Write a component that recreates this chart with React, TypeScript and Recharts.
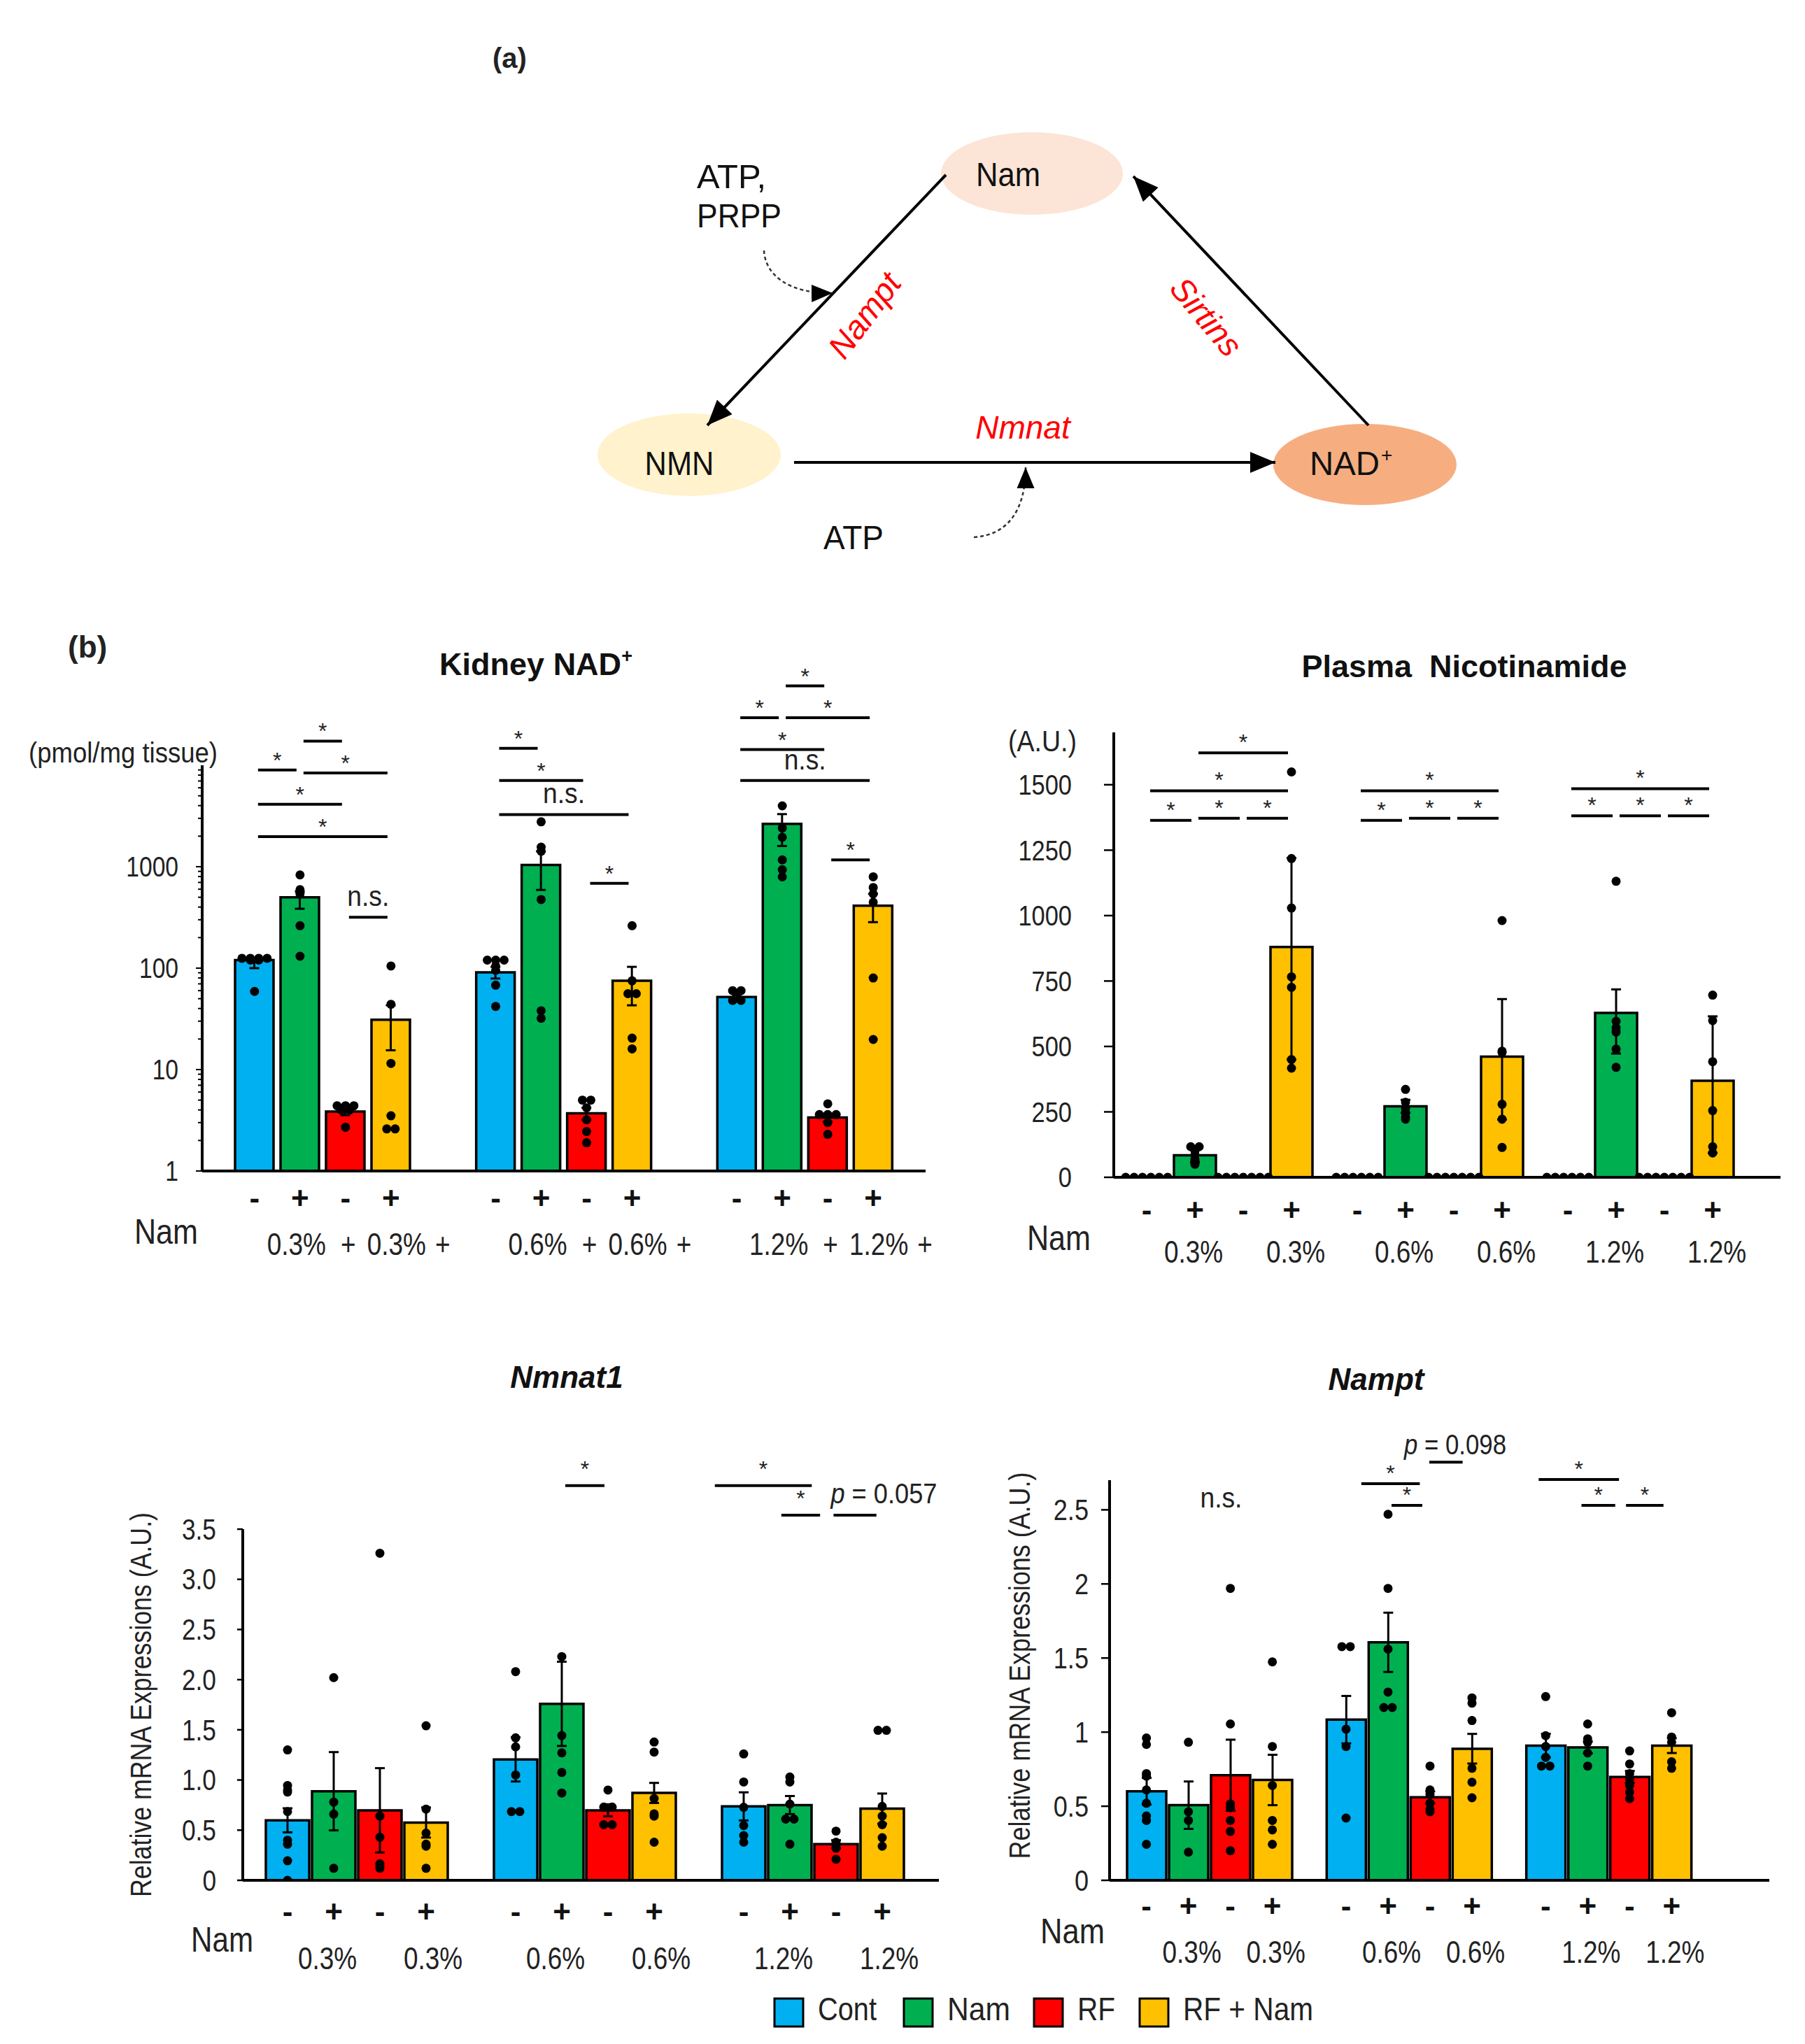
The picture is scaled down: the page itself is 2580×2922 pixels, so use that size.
import React from 'react';
import { ComposedChart, Bar, Scatter, XAxis, YAxis, ErrorBar, ReferenceLine } from 'recharts';

const DOSES = ['0.3%', '0.6%', '1.2%'];
const GROUP_NAMES = ['Cont', 'Nam', 'RF', 'RF + Nam'];
const GROUP_KEYS = ['cont', 'nam', 'rf', 'rfNam'];
const GROUP_COLORS = ['#00B0F0', '#00B050', '#FF0000', '#FFC000'];
const NAM_SIGNS = ['-', '+', '-', '+'];

// Kidney NAD+ (pmol/mg tissue) - rows: Cont, Nam, RF, RF+Nam ; cols: 0.3, 0.6, 1.2 %
const kidneyMean = [
  [120, 91, 52],
  [500, 1040, 2650],
  [3.85, 3.7, 3.37],
  [31, 75, 412],
];
const kidneyErr = [
  [[20, 5], [12, 12], [5, 5]],
  [[115, 70], [450, 380], [1050, 650]],
  [[0.3, 0.3], [0.5, 0.5], [0.3, 0.3]],
  [[15.5, 12], [32, 28], [128, 128]],
];
const kidneyDots = [
  [[125, 125, 125, 125, 120, 120, 59], [120, 120, 120, 105, 95, 68, 42], [60, 60, 55, 52, 48, 48]],
  [[830, 594, 560, 540, 262, 131], [2770, 1560, 1420, 475, 38, 32], [3980, 2410, 1950, 1167, 935, 794]],
  [[4.4, 4.4, 4.4, 4.0, 4.0, 2.7], [5.0, 5.0, 4.2, 3.2, 2.45, 1.9], [4.6, 3.6, 3.6, 3.6, 3.0, 2.3]],
  [[105, 44, 11.5, 3.5, 2.6, 2.6], [262, 75, 56, 56, 20.4, 16], [795, 624, 540, 446, 80, 19.8]],
];
const kidneyMajorTicks = [1, 10, 100, 1000];
const kidneySig = [
  { g: 0, y: 9000, a: 0, b: 1, t: '*' },
  { g: 0, y: 8400, a: 1, b: 3, t: '*' },
  { g: 0, y: 17300, a: 1, b: 2, t: '*' },
  { g: 0, y: 4120, a: 0, b: 2, t: '*' },
  { g: 0, y: 1983, a: 0, b: 3, t: '*' },
  { g: 0, y: 318, a: 2, b: 3, t: 'n.s.' },
  { g: 1, y: 14700, a: 0, b: 1, t: '*' },
  { g: 1, y: 7070, a: 0, b: 2, t: '*' },
  { g: 1, y: 3270, a: 0, b: 3, t: 'n.s.' },
  { g: 1, y: 687, a: 2, b: 3, t: '*' },
  { g: 2, y: 29400, a: 0, b: 1, t: '*' },
  { g: 2, y: 29400, a: 1, b: 3, t: '*' },
  { g: 2, y: 60600, a: 1, b: 2, t: '*' },
  { g: 2, y: 14290, a: 0, b: 2, t: '*' },
  { g: 2, y: 7070, a: 0, b: 3, t: 'n.s.' },
  { g: 2, y: 1167, a: 2, b: 3, t: '*' },
];

// Plasma nicotinamide (A.U.)
const plasmaMean = [
  [0, 0, 0],
  [84, 271, 628],
  [0, 0, 0],
  [880, 461, 369],
];
const plasmaErr = [
  [[0, 0], [0, 0], [0, 0]],
  [[25, 25], [25, 25], [155, 90]],
  [[0, 0], [0, 0], [0, 0]],
  [[430, 340], [240, 220], [276, 246]],
];
const plasmaDots = [
  [[0, 0, 0, 0, 0, 0], [0, 0, 0, 0, 0, 0], [0, 0, 0, 0, 0, 0]],
  [[117, 117, 100, 84, 68, 55, 50], [336, 287, 263, 247, 230, 222], [1131, 596, 571, 555, 490, 420]],
  [[0, 0, 0, 0, 0, 0, 0], [0, 0, 0, 0, 0, 0, 0], [0, 0, 0, 0, 0, 0, 0]],
  [[1549, 1218, 1029, 766, 726, 450, 417], [981, 482, 477, 279, 222, 114], [696, 599, 442, 255, 117, 93]],
];
const plasmaTicks = [0, 250, 500, 750, 1000, 1250, 1500];
const plasmaSig = [
  { g: 0, y: 1364, a: 0, b: 1, t: '*' },
  { g: 0, y: 1372, a: 1, b: 2, t: '*' },
  { g: 0, y: 1372, a: 2, b: 3, t: '*' },
  { g: 0, y: 1477, a: 0, b: 3, t: '*' },
  { g: 0, y: 1622, a: 1, b: 3, t: '*' },
  { g: 1, y: 1364, a: 0, b: 1, t: '*' },
  { g: 1, y: 1372, a: 1, b: 2, t: '*' },
  { g: 1, y: 1372, a: 2, b: 3, t: '*' },
  { g: 1, y: 1477, a: 0, b: 3, t: '*' },
  { g: 2, y: 1381, a: 0, b: 1, t: '*' },
  { g: 2, y: 1381, a: 1, b: 2, t: '*' },
  { g: 2, y: 1381, a: 2, b: 3, t: '*' },
  { g: 2, y: 1485, a: 0, b: 3, t: '*' },
];

// Nmnat1 relative mRNA
const nmnatMean = [
  [0.598, 1.205, 0.737],
  [0.888, 1.759, 0.75],
  [0.698, 0.698, 0.36],
  [0.576, 0.871, 0.715],
];
const nmnatErr = [
  [0.12, 0.22, 0.14],
  [0.39, 0.42, 0.09],
  [0.42, 0.06, 0.04],
  [0.15, 0.1, 0.15],
];
const nmnatDots = [
  [[1.3, 0.945, 0.9, 0.88, 0.685, 0.4, 0.36, 0.195, 0.0], [2.08, 1.42, 1.33, 1.05, 0.685, 0.685], [1.26, 0.98, 0.728, 0.546, 0.446, 0.38]],
  [[2.02, 0.78, 0.66, 0.12], [3.66, 2.23, 1.443, 1.27, 1.075, 0.87], [1.03, 0.98, 0.76, 0.61, 0.61, 0.36]],
  [[3.26, 0.64, 0.43, 0.165, 0.143, 0.12], [0.9, 0.73, 0.73, 0.555, 0.555], [0.49, 0.38, 0.35, 0.32, 0.21]],
  [[1.54, 0.71, 0.47, 0.36, 0.34, 0.12], [1.378, 1.278, 0.815, 0.663, 0.64, 0.38], [1.495, 1.495, 0.737, 0.64, 0.555, 0.425, 0.34]],
];
const nmnatTicks = [0, 0.5, 1, 1.5, 2, 2.5, 3, 3.5];
const nmnatSig = [
  { g: 1, y: 3.934, a: 1, b: 2, t: '*' },
  { g: 2, y: 3.934, a: -0.7, b: 1.55, t: '*' },
  { g: 2, y: 3.64, a: 0.74, b: 1.73, t: '*' },
  { g: 2, y: 3.64, a: 1.87, b: 2.95, t: 'p = 0.057', start: -4, dy: 17, len: 152 },
];

// Nampt relative mRNA
const namptMean = [
  [0.601, 1.084, 0.909],
  [0.507, 1.606, 0.897],
  [0.709, 0.56, 0.698],
  [0.677, 0.888, 0.909],
];
const namptErr = [
  [0.09, 0.16, 0.08],
  [0.16, 0.2, 0.04],
  [0.24, 0.04, 0.04],
  [0.17, 0.1, 0.05],
];
const namptDots = [
  [[0.96, 0.917, 0.72, 0.703, 0.61, 0.52, 0.434, 0.404, 0.243], [1.577, 1.577, 1.02, 0.903, 0.42], [1.24, 0.976, 0.903, 0.83, 0.771, 0.771]],
  [[0.932, 0.463, 0.404, 0.19], [2.47, 1.97, 1.56, 1.27, 1.166, 1.166], [1.055, 0.955, 0.932, 0.859, 0.771]],
  [[1.97, 1.055, 0.516, 0.49, 0.404, 0.33, 0.2], [0.771, 0.61, 0.58, 0.52, 0.478, 0.463], [0.873, 0.785, 0.72, 0.683, 0.64, 0.595, 0.551]],
  [[1.474, 0.903, 0.64, 0.404, 0.34, 0.243], [1.231, 1.196, 1.078, 0.756, 0.662, 0.557], [1.131, 0.967, 0.932, 0.8, 0.756]],
];
const namptTicks = [0, 0.5, 1, 1.5, 2, 2.5];
const namptSig = [
  { g: 0, y: 2.515, a: 1.78, b: 1.78, t: 'n.s.', noLine: true, dy: 0 },
  { g: 1, y: 2.676, a: 0.28, b: 1.84, t: '*' },
  { g: 1, y: 2.53, a: 1.0, b: 1.9, t: '*' },
  { g: 1, y: 2.822, a: 1.9, b: 2.86, t: 'p = 0.098', start: -36, dy: 11, len: 146 },
  { g: 2, y: 2.705, a: -0.25, b: 1.83, t: '*' },
  { g: 2, y: 2.53, a: 0.77, b: 1.74, t: '*' },
  { g: 2, y: 2.53, a: 1.83, b: 2.89, t: '*' },
];

const FONT = "'Liberation Sans', Arial, Helvetica, sans-serif";

// Arial-like advance widths, squeezed to mimic the condensed face of the figure
const EM: Record<string, number> = { '.': 0.278, '%': 0.889, ' ': 0.278, '+': 0.584, '-': 0.333 };
const narrowW = (s: string, size: number) => [...s].reduce((w, c) => w + (EM[c] ?? 0.556), 0) * size * 0.84;

function NText({ len, children, ...rest }: any) {
  return (
    <text {...rest} textLength={len} lengthAdjust="spacingAndGlyphs">
      {children}
    </text>
  );
}

// spreads identical values sideways, like a beeswarm
const swarm = (vals: number[]) => {
  const total = new Map<number, number>();
  vals.forEach((v) => total.set(v, (total.get(v) || 0) + 1));
  const seen = new Map<number, number>();
  return vals.map((v) => {
    const i = seen.get(v) || 0;
    seen.set(v, i + 1);
    return i - ((total.get(v) as number) - 1) / 2;
  });
};

const kidneyTickValues = kidneyMajorTicks.flatMap((d) => [1, 2, 3, 4, 5, 6, 7, 8, 9].map((m) => m * d));

function KidneyTick(props: any) {
  const { x, y, payload } = props;
  const major = kidneyMajorTicks.includes(payload.value);
  const label = String(payload.value);
  return (
    <g>
      <line x1={x - (major ? 9 : 6)} x2={x} y1={y} y2={y} stroke="#000" strokeWidth={2} />
      {major && (
        <NText x={x - 34} y={y} dy={14} textAnchor="end" fontSize={40} fill="#222" len={narrowW(label, 40)}>
          {label}
        </NText>
      )}
    </g>
  );
}

function NumTick(props: any) {
  const { x, y, payload, size, fmt } = props;
  const label = fmt ? fmt(payload.value) : String(payload.value);
  return (
    <NText x={x} y={y} dy={size * 0.35} textAnchor="end" fontSize={size} fill="#222" len={narrowW(label, size)}>
      {label}
    </NText>
  );
}

function XTick(props: any) {
  const { x, y, payload, cfg } = props;
  const step = cfg.barSize + cfg.barGap;
  return (
    <g>
      {NAM_SIGNS.map((s, i) => (
        <text key={'s' + i} x={x + (i - 1.5) * step} y={y + cfg.signDy} textAnchor="middle" fontSize={44} fontWeight="bold" fill="#111">
          {s}
        </text>
      ))}
      {cfg.doseRow.map((d: any, i: number) => {
        const label = d[1] === null ? payload.value : d[1];
        return (
          <NText key={'d' + i} x={x + (d[0] - 1.5) * step + d[2]} y={y + cfg.doseDy} textAnchor="middle" fontSize={cfg.doseFont} fill="#222" len={narrowW(label, cfg.doseFont)}>
            {label}
          </NText>
        );
      })}
    </g>
  );
}

function SigMark(props: any) {
  const { p, s, step, starGap, nsGap } = props;
  const x1 = p.x1 + (s.a - 1.5) * step + 5;
  const x2 = p.x2 + (s.b - 1.5) * step - 5;
  const y = p.y1;
  const isP = s.t.startsWith('p');
  const isStar = s.t === '*';
  const tx = s.start != null ? x1 + s.start : (x1 + x2) / 2;
  const ty = y - (s.dy != null ? s.dy : isStar ? starGap : nsGap);
  const anchor = s.start != null ? 'start' : 'middle';
  return (
    <g>
      {!s.noLine && <line x1={x1} x2={x2} y1={y} y2={y} stroke="#000" strokeWidth={4} />}
      {isStar ? (
        <text x={tx} y={ty} textAnchor={anchor} fontSize={32} fill="#222">*</text>
      ) : (
        <NText x={tx} y={ty} textAnchor={anchor} fontSize={40} fill="#222" len={s.len || 60}>
          {isP ? (
            <>
              <tspan fontStyle="italic">p</tspan>
              {s.t.slice(1)}
            </>
          ) : (
            s.t
          )}
        </NText>
      )}
    </g>
  );
}

function Panel({ cfg }: { cfg: any }) {
  const step = cfg.barSize + cfg.barGap;
  const rows = DOSES.map((dose, d) => {
    const r: Record<string, any> = { dose };
    GROUP_KEYS.forEach((k, s) => {
      r[k] = cfg.mean[s][d];
      r[k + 'Err'] = cfg.err[s][d];
    });
    return r;
  });
  const points = GROUP_KEYS.map((k, s) =>
    DOSES.flatMap((dose, d) => {
      const vals: number[] = cfg.dots[s][d];
      const off = swarm(vals);
      return vals.map((v, i) => ({ dose, v, j: off[i] }));
    })
  );

  return (
    <div style={{ position: 'absolute', left: cfg.left, top: cfg.top }}>
      <ComposedChart
        width={cfg.width}
        height={cfg.height}
        data={rows}
        margin={cfg.margin}
        barSize={cfg.barSize}
        barGap={cfg.barGap}
      >
        <XAxis
          dataKey="dose"
          type="category"
          allowDuplicatedCategory={false}
          height={120}
          padding={{ left: 0, right: cfg.padRight }}
          axisLine={{ stroke: '#000', strokeWidth: 4 }}
          tickLine={false}
          tickSize={0}
          tickMargin={0}
          interval={0}
          tick={(p: any) => <XTick {...p} cfg={cfg} />}
        />
        {cfg.log ? (
          <YAxis
            type="number"
            scale="log"
            domain={cfg.domain}
            allowDataOverflow
            ticks={kidneyTickValues}
            interval={0}
            width={100}
            axisLine={{ stroke: '#000', strokeWidth: 4 }}
            tickLine={false}
            tickSize={0}
            tickMargin={0}
            tick={(p: any) => <KidneyTick {...p} />}
          />
        ) : (
          <YAxis
            type="number"
            domain={cfg.domain}
            allowDataOverflow
            ticks={cfg.ticks}
            interval={0}
            width={100}
            axisLine={{ stroke: '#000', strokeWidth: 4 }}
            tickLine={{ stroke: '#000', strokeWidth: 2.5 }}
            tickSize={cfg.tickSize}
            tickMargin={cfg.tickMargin}
            tick={(p: any) => <NumTick {...p} size={cfg.tickFont} fmt={cfg.tickFormat} />}
          />
        )}
        {GROUP_KEYS.map((k, s) => (
          <Bar key={k} dataKey={k} fill={GROUP_COLORS[s]} stroke="#000" strokeWidth={3.5} isAnimationActive={false}>
            <ErrorBar dataKey={k + 'Err'} width={7} stroke="#000" strokeWidth={3} direction="y" isAnimationActive={false} />
          </Bar>
        ))}
        {GROUP_KEYS.map((k, s) => (
          <Scatter
            key={'pts-' + k}
            data={points[s]}
            dataKey="v"
            isAnimationActive={false}
            shape={(p: any) => {
              const j = p.payload ? p.payload.j : p.j;
              return <circle cx={p.cx + (s - 1.5) * step + j * 12} cy={p.cy} r={6.5} fill="#000" />;
            }}
          />
        ))}
        {cfg.sig.map((s: any, i: number) => (
          <ReferenceLine
            key={'sig' + i}
            segment={[
              { x: DOSES[s.g], y: s.y },
              { x: DOSES[s.g], y: s.y },
            ]}
            ifOverflow="visible"
            shape={(p: any) => <SigMark p={p} s={s} step={step} starGap={cfg.starGap} nsGap={cfg.nsGap} />}
          />
        ))}
      </ComposedChart>
    </div>
  );
}

const kidneyCfg = {
  left: 0, top: 930, width: 1380, height: 900,
  margin: { top: 164, right: 57, bottom: 36, left: 189 },
  padRight: 0, barSize: 55, barGap: 10,
  log: true, domain: [1, 10000],
  mean: kidneyMean, err: kidneyErr, dots: kidneyDots, sig: kidneySig,
  starGap: 3, nsGap: 16,
  signDy: 54, doseDy: 120, doseFont: 44,
  doseRow: [[1, null, -5], [2, '+', 4], [3, null, 8], [3, '+', 74]],
};

const plasmaCfg = {
  left: 1380, top: 1000, width: 1200, height: 860,
  margin: { top: 47, right: 35, bottom: 57, left: 112 },
  padRight: 50, barSize: 60, barGap: 9,
  domain: [0, 1700], ticks: plasmaTicks, tickSize: 14, tickMargin: 46, tickFont: 41,
  mean: plasmaMean, err: plasmaErr, dots: plasmaDots, sig: plasmaSig,
  starGap: 4, nsGap: 16,
  signDy: 62, doseDy: 122, doseFont: 44,
  doseRow: [[1, null, -2], [3, null, 6]],
};

const nmnatCfg = {
  left: 0, top: 2050, width: 1380, height: 800,
  margin: { top: 136, right: 38, bottom: 42, left: 247 },
  padRight: 17, barSize: 62, barGap: 4,
  domain: [0, 3.5], ticks: nmnatTicks, tickSize: 8, tickMargin: 30, tickFont: 42,
  tickFormat: (v: number) => (v === 0 ? '0' : v.toFixed(1)),
  mean: nmnatMean, err: nmnatErr, dots: nmnatDots, sig: nmnatSig,
  starGap: 13, nsGap: 16,
  signDy: 60, doseDy: 127, doseFont: 44,
  doseRow: [[1, null, -9], [3, null, 10]],
};

const namptCfg = {
  left: 1380, top: 2030, width: 1200, height: 820,
  margin: { top: 86, right: 51, bottom: 42, left: 106 },
  padRight: 87, barSize: 56, barGap: 4,
  domain: [0, 2.7], ticks: namptTicks, tickSize: 12, tickMargin: 18, tickFont: 43,
  mean: namptMean, err: namptErr, dots: namptDots, sig: namptSig,
  starGap: 4, nsGap: 16,
  signDy: 52, doseDy: 118, doseFont: 44,
  doseRow: [[1, null, 5], [3, null, 5]],
};

function Diagram() {
  return (
    <g>
      <defs>
        <marker id="headBig" viewBox="0 0 12 10" refX="12" refY="5" markerWidth="38" markerHeight="30" markerUnits="userSpaceOnUse" orient="auto">
          <path d="M0,0 L12,5 L0,10 Z" fill="#000" />
        </marker>
        <marker id="headSmall" viewBox="0 0 12 10" refX="12" refY="5" markerWidth="30" markerHeight="26" markerUnits="userSpaceOnUse" orient="auto">
          <path d="M0,0 L12,5 L0,10 Z" fill="#000" />
        </marker>
      </defs>
      <text x={704} y={97} fontSize={40} fontWeight="bold" fill="#222">(a)</text>

      <ellipse cx={1475} cy={248} rx={130} ry={59} fill="#FCE4D6" />
      <ellipse cx={985} cy={650} rx={131} ry={59} fill="#FFF2CC" />
      <ellipse cx={1951} cy={664} rx={131} ry={58} fill="#F6AE80" />

      <line x1={1352} y1={250} x2={1011} y2={608} stroke="#000" strokeWidth={4} markerEnd="url(#headBig)" />
      <line x1={1135} y1={661} x2={1823} y2={661} stroke="#000" strokeWidth={4} markerEnd="url(#headBig)" />
      <line x1={1956} y1={608} x2={1620} y2={252} stroke="#000" strokeWidth={4} markerEnd="url(#headBig)" />

      <path d="M1092 358 C1094 395 1130 420 1190 419" stroke="#333" strokeWidth={2.5} strokeDasharray="5 4" fill="none" markerEnd="url(#headSmall)" />
      <path d="M1392 768 C1440 765 1466 730 1466 668" stroke="#333" strokeWidth={2.5} strokeDasharray="5 4" fill="none" markerEnd="url(#headSmall)" />

      <g fontSize={48} fill="#111">
        <NText x={1441} y={266} textAnchor="middle" len={92}>Nam</NText>
        <NText x={971} y={679} textAnchor="middle" len={99}>NMN</NText>
        <NText x={1872} y={679} len={100}>NAD</NText>
        <text x={1974} y={660} fontSize={28}>+</text>
        <NText x={996} y={269} len={99}>ATP,</NText>
        <NText x={996} y={325} len={121}>PRPP</NText>
        <NText x={1220} y={785} textAnchor="middle" len={86}>ATP</NText>
      </g>
      <text x={1462} y={627} textAnchor="middle" fontSize={46} fontStyle="italic" fill="#FF0000">Nmnat</text>
      <text x={1236} y={451} dy={16} textAnchor="middle" fontSize={47} fontStyle="italic" fill="#FF0000" transform="rotate(-53 1236 451)">Nampt</text>
      <text x={1724} y={453} dy={16} textAnchor="middle" fontSize={47} fontStyle="italic" fill="#FF0000" transform="rotate(50 1724 453)">Sirtins</text>
    </g>
  );
}

function Overlay() {
  const legendX = [1107, 1292, 1478, 1629];
  const legendLen = [84, 90, 54, 186];
  return (
    <svg width={2580} height={2922} style={{ position: 'absolute', left: 0, top: 0, pointerEvents: 'none' }}>
      <Diagram />
      <text x={97} y={940} fontSize={44} fontWeight="bold" fill="#222">(b)</text>

      <text x={766} y={965} textAnchor="middle" fontSize={45} fontWeight="bold" fill="#111">
        Kidney NAD<tspan fontSize={27} dy={-18}>+</tspan>
      </text>
      <NText x={41} y={1090} fontSize={40} fill="#222" len={270}>(pmol/mg tissue)</NText>
      <NText x={192} y={1778} fontSize={50} fill="#222" len={91}>Nam</NText>

      <text x={2093} y={968} textAnchor="middle" fontSize={45} fontWeight="bold" fill="#111">{'Plasma\u00A0\u00A0Nicotinamide'}</text>
      <NText x={1441} y={1074} fontSize={42} fill="#222" len={98}>(A.U.)</NText>
      <NText x={1468} y={1787} fontSize={50} fill="#222" len={91}>Nam</NText>

      <text x={810} y={1984} textAnchor="middle" fontSize={44} fontWeight="bold" fontStyle="italic" fill="#111">Nmnat1</text>
      <NText x={201} y={2437} dy={15} textAnchor="middle" fontSize={42} fill="#222" len={550} transform="rotate(-90 201 2437)">Relative mRNA Expressions (A.U.)</NText>
      <NText x={273} y={2790} fontSize={50} fill="#222" len={89}>Nam</NText>

      <text x={1967} y={1987} textAnchor="middle" fontSize={44} fontWeight="bold" fontStyle="italic" fill="#111">Nampt</text>
      <NText x={1457} y={2381} dy={15} textAnchor="middle" fontSize={42} fill="#222" len={553} transform="rotate(-90 1457 2381)">Relative mRNA Expressions (A.U.)</NText>
      <NText x={1487} y={2778} fontSize={50} fill="#222" len={92}>Nam</NText>

      {GROUP_NAMES.map((name, i) => (
        <g key={name}>
          <rect x={legendX[i]} y={2857} width={41} height={40} fill={GROUP_COLORS[i]} stroke="#000" strokeWidth={3} />
          <NText x={legendX[i] + 62} y={2888} fontSize={46} fill="#222" len={legendLen[i]}>{name}</NText>
        </g>
      ))}
    </svg>
  );
}

export default function App() {
  return (
    <div style={{ position: 'absolute', left: 0, top: 0, width: 2580, height: 2922, background: '#fff', overflow: 'hidden', fontFamily: FONT }}>
      <Panel cfg={kidneyCfg} />
      <Panel cfg={plasmaCfg} />
      <Panel cfg={nmnatCfg} />
      <Panel cfg={namptCfg} />
      <Overlay />
    </div>
  );
}
